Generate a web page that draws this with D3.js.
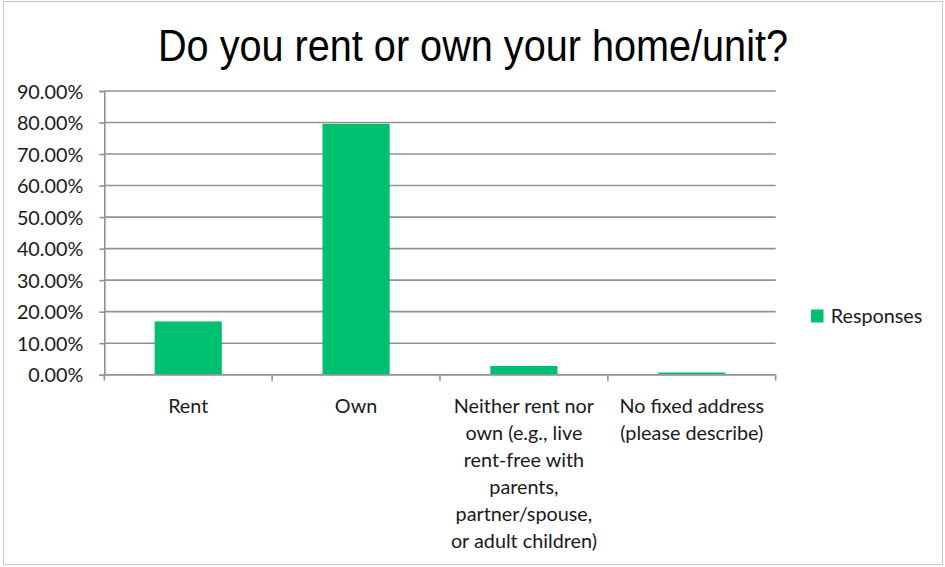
<!DOCTYPE html>
<html>
<head>
<meta charset="utf-8">
<script src="https://cdn.jsdelivr.net/npm/d3@7"></script>
<style>
  html, body { margin: 0; padding: 0; background: #fff; }
  svg { display: block; }
  text { fill: #1a1a1a; }
</style>
</head>
<body>
<svg id="chart" width="945" height="567"></svg>
<script>
// Survey question data
const chartTitle = "Do you rent or own your home/unit?";
const categories = [
  ["Rent"],
  ["Own"],
  ["Neither rent nor", "own (e.g., live", "rent-free with", "parents,", "partner/spouse,", "or adult children)"],
  ["No fixed address", "(please describe)"]
];
const responses = [16.9, 79.6, 2.8, 0.7];
const yTicks = [0, 10, 20, 30, 40, 50, 60, 70, 80, 90];
const seriesName = "Responses";

const barColor = "#00BF6F";
const gridColor = "#929292";
const labelFont = "Lato, 'Open Sans', sans-serif";
const labelSize = 19.8;

const svg = d3.select("#chart");
const plot = { left: 104.3, right: 775.7, top: 91, bottom: 374.7 };

// chart frame
svg.append("rect")
  .attr("x", 3.5).attr("y", 1.5)
  .attr("width", 939).attr("height", 563)
  .attr("fill", "#fff")
  .attr("stroke", "#c8c8c8").attr("stroke-width", 1);

// title (condensed to its box width)
svg.append("text")
  .attr("x", 158).attr("y", 60.5)
  .attr("font-family", "'Liberation Sans', Arial, sans-serif")
  .attr("font-size", 45)
  .attr("textLength", 630)
  .attr("lengthAdjust", "spacingAndGlyphs")
  .style("fill", "#000")
  .text(chartTitle);

const x = d3.scaleBand()
  .domain(d3.range(categories.length))
  .range([plot.left, plot.right])
  .paddingInner(0.6)
  .paddingOuter(0.3);

const y = d3.scaleLinear()
  .domain([0, 90])
  .range([plot.bottom, plot.top]);

// horizontal gridlines
svg.append("g")
  .selectAll("line")
  .data(yTicks)
  .join("line")
  .attr("x1", plot.left).attr("x2", plot.right)
  .attr("y1", d => y(d)).attr("y2", d => y(d))
  .attr("stroke", gridColor).attr("stroke-width", 1.6);

// bars
svg.append("g")
  .selectAll("rect")
  .data(responses)
  .join("rect")
  .attr("x", (d, i) => x(i))
  .attr("width", x.bandwidth())
  .attr("y", d => y(d))
  .attr("height", d => y(0) - y(d))
  .attr("fill", barColor);

// y axis
const yAxis = d3.axisLeft(y)
  .tickValues(yTicks)
  .tickSize(5)
  .tickPadding(16)
  .tickFormat(d => d.toFixed(2) + "%");

const gy = svg.append("g")
  .attr("transform", `translate(${plot.left},0)`)
  .call(yAxis);
gy.select(".domain").attr("stroke", gridColor).attr("stroke-width", 1.6);
gy.selectAll(".tick line").attr("stroke", gridColor).attr("stroke-width", 1.6);
gy.selectAll(".tick text")
  .attr("font-family", labelFont)
  .attr("font-size", labelSize)
  .attr("dy", "0.36em")
  .style("fill", "#1a1a1a");

// x axis: ticks on the category boundaries
const boundaries = d3.range(categories.length + 1)
  .map(i => plot.left + i * x.step());
const gx = svg.append("g");
gx.append("line")
  .attr("x1", plot.left).attr("x2", plot.right)
  .attr("y1", y(0)).attr("y2", y(0))
  .attr("stroke", gridColor).attr("stroke-width", 1.6);
gx.selectAll("line.tick")
  .data(boundaries)
  .join("line")
  .attr("class", "tick")
  .attr("x1", d => d).attr("x2", d => d)
  .attr("y1", y(0)).attr("y2", y(0) + 6)
  .attr("stroke", gridColor).attr("stroke-width", 1.6);

// category labels
const lineH = 27;
gx.selectAll("text")
  .data(categories)
  .join("text")
  .attr("x", (d, i) => x(i) + x.bandwidth() / 2)
  .attr("y", 412.5)
  .attr("text-anchor", "middle")
  .attr("font-family", labelFont)
  .attr("font-size", labelSize)
  .style("fill", "#1a1a1a")
  .each(function(lines) {
    const t = d3.select(this);
    lines.forEach((ln, k) => {
      t.append("tspan")
        .attr("x", t.attr("x"))
        .attr("dy", k === 0 ? 0 : lineH)
        .text(ln);
    });
  });

// legend
const legend = svg.append("g");
legend.append("rect")
  .attr("x", 811).attr("y", 309.5)
  .attr("width", 12.5).attr("height", 13)
  .attr("fill", barColor);
legend.append("text")
  .attr("x", 830.7).attr("y", 323.3)
  .attr("font-family", labelFont)
  .attr("font-size", labelSize)
  .style("fill", "#1a1a1a")
  .text(seriesName);
</script>
</body>
</html>
